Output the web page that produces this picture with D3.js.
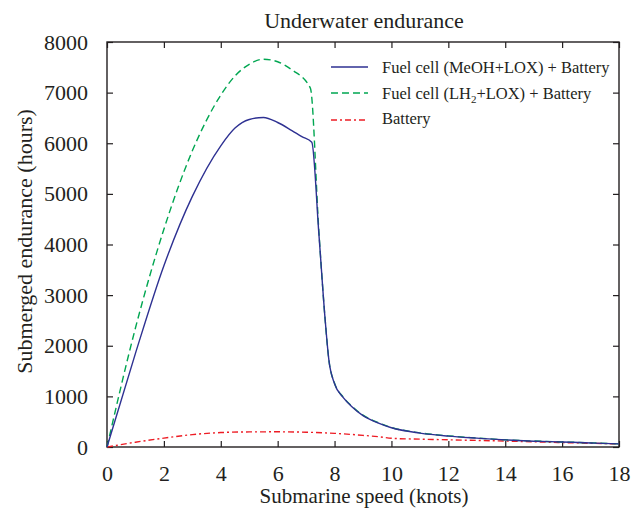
<!DOCTYPE html>
<html>
<head>
<meta charset="utf-8">
<script src="https://cdn.jsdelivr.net/npm/d3@7"></script>
<style>
  body { margin: 0; background: #fff; }
  svg text { font-family: 'Liberation Serif', 'DejaVu Serif', serif; fill: #231f20; }
</style>
</head>
<body>
<div id="chart"></div>
<script>
// speed (knots) and endurance (hours)
const speedFC = [0, 1, 2, 3, 4, 4.5, 5, 5.5, 6, 6.5, 6.85, 7.2, 7.45, 7.67, 7.8, 8, 8.3, 8.6, 9, 9.5, 10, 11, 12, 13, 14, 15, 16, 17, 18];
const meohLox = [0, 1850, 3580, 4950, 5950, 6300, 6470, 6510, 6410, 6250, 6130, 6020, 4200, 2510, 1720, 1250, 980, 800, 620, 480, 380, 275, 215, 175, 140, 115, 100, 80, 62];
const speedLH2 = [0, 1, 2, 3, 4, 4.5, 5, 5.5, 6, 6.5, 7.15, 7.45, 7.67, 7.8, 8, 8.3, 8.6, 9, 9.5, 10, 11, 12, 13, 14, 15, 16, 17, 18];
const lh2Lox = [0, 2350, 4300, 5850, 6950, 7330, 7560, 7660, 7610, 7450, 7090, 4250, 2510, 1720, 1260, 990, 810, 630, 490, 385, 280, 220, 178, 142, 118, 100, 82, 62];
const speedBat = [0, 1, 2, 3, 4, 5, 6, 7, 8, 9, 9.6, 10, 11, 12, 13, 14, 15, 16, 17, 18];
const battery = [0, 95, 175, 245, 285, 298, 300, 292, 270, 230, 200, 172, 155, 142, 130, 118, 102, 88, 74, 60];

const xTicks = [0, 2, 4, 6, 8, 10, 12, 14, 16, 18];
const yTicks = [0, 1000, 2000, 3000, 4000, 5000, 6000, 7000, 8000];

const width = 633, height = 508;
const margin = {top: 42, right: 14, bottom: 61, left: 107};
const w = width - margin.left - margin.right;
const h = height - margin.top - margin.bottom;
const serif = "'Liberation Serif', 'DejaVu Serif', serif";

const svg = d3.select('#chart').append('svg')
    .attr('width', width)
    .attr('height', height)
    .attr('font-family', serif);

const g = svg.append('g')
    .attr('transform', `translate(${margin.left}, ${margin.top})`);

const x = d3.scaleLinear().domain([0, 18]).range([0, w]);
const y = d3.scaleLinear().domain([0, 8000]).range([h, 0]);

// box with inward ticks on all sides
const axisColor = '#231f20';
function styleAxis(sel) {
    sel.attr('font-family', serif);
    sel.select('.domain').remove();
    sel.selectAll('line').attr('stroke', axisColor).attr('stroke-width', 1.2);
    sel.selectAll('text')
        .attr('font-family', serif)
        .style('font-size', '22px')
        .attr('fill', axisColor);
}

g.append('g').attr('transform', `translate(0, ${h})`)
    .call(d3.axisBottom(x).tickValues(xTicks).tickSize(-6).tickPadding(18).tickFormat(d3.format('d')))
    .call(styleAxis);
g.append('g')
    .call(d3.axisTop(x).tickValues(xTicks).tickSize(-6).tickFormat(''))
    .call(styleAxis);
g.append('g')
    .call(d3.axisLeft(y).tickValues(yTicks).tickSize(-6).tickPadding(19).tickFormat(d3.format('d')))
    .call(styleAxis);
g.append('g').attr('transform', `translate(${w}, 0)`)
    .call(d3.axisRight(y).tickValues(yTicks).tickSize(-6).tickFormat(''))
    .call(styleAxis);

g.append('rect')
    .attr('width', w).attr('height', h)
    .attr('fill', 'none').attr('stroke', axisColor).attr('stroke-width', 1.4);

const series = [
    {xs: speedBat, ys: battery, color: '#ed1c24', dash: '6,3,2,3'},
    {xs: speedLH2, ys: lh2Lox, color: '#00a651', dash: '7,4'},
    {xs: speedFC, ys: meohLox, color: '#2e3192', dash: null}
];

const line = d3.line()
    .x(d => x(d[0]))
    .y(d => y(d[1]))
    .curve(d3.curveMonotoneX);

series.forEach(s => {
    g.append('path')
        .datum(s.xs.map((v, i) => [v, s.ys[i]]))
        .attr('fill', 'none')
        .attr('stroke', s.color)
        .attr('stroke-width', 1.4)
        .attr('stroke-dasharray', s.dash)
        .attr('d', line);
});

// legend
const legend = svg.append('g');
const legendRows = [
    {color: '#2e3192', dash: null, y: 67},
    {color: '#00a651', dash: '7,4', y: 93},
    {color: '#ed1c24', dash: '6,3,2,3', y: 120}
];
legendRows.forEach(r => {
    legend.append('line')
        .attr('x1', 331).attr('x2', 368)
        .attr('y1', r.y).attr('y2', r.y)
        .attr('stroke', r.color).attr('stroke-width', 1.4)
        .attr('stroke-dasharray', r.dash);
});
legend.append('text').attr('x', 382).attr('y', 73).style('font-size', '16.5px')
    .text('Fuel cell (MeOH+LOX) + Battery');
const t2 = legend.append('text').attr('x', 382).attr('y', 98.5).style('font-size', '16.5px');
t2.append('tspan').text('Fuel cell (LH');
t2.append('tspan').attr('dy', 4).style('font-size', '11px').text('2');
t2.append('tspan').attr('dy', -4).text('+LOX) + Battery');
legend.append('text').attr('x', 382).attr('y', 124).style('font-size', '16.5px')
    .text('Battery');

// titles
svg.append('text')
    .attr('x', 364).attr('y', 28)
    .attr('text-anchor', 'middle')
    .style('font-size', '22px')
    .text('Underwater endurance');

svg.append('text')
    .attr('x', 364).attr('y', 503)
    .attr('text-anchor', 'middle')
    .style('font-size', '21px')
    .text('Submarine speed (knots)');

svg.append('text')
    .attr('transform', `translate(32, ${margin.top + h / 2 - 3}) rotate(-90)`)
    .attr('text-anchor', 'middle')
    .style('font-size', '22px')
    .text('Submerged endurance (hours)');
</script>
</body>
</html>
